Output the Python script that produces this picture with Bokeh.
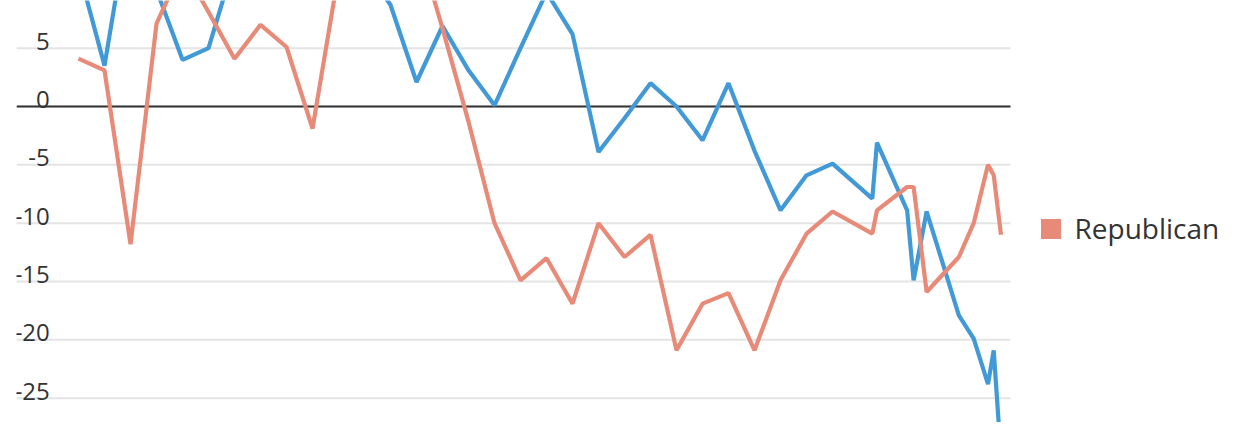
from bokeh.plotting import figure
from bokeh.models import ColumnDataSource, Range1d, Grid, Legend, LegendItem
from bokeh.core.properties import value
from bokeh.embed import file_html
from bokeh.resources import INLINE

# ---- data ----
years = [1990, 1991, 1992, 1993, 1994, 1995, 1996, 1997, 1998, 1999,
         2000, 2001, 2002, 2003, 2004, 2005, 2006, 2007, 2008, 2009,
         2010, 2011, 2012, 2013, 2014, 2015, 2016, 2017, 2018, 2019,
         2020.53, 2020.71, 2021.87, 2022.12, 2022.62, 2023.86, 2024.43,
         2024.98, 2025.20, 2025.48]

democrat = [11.8, 3.5, 16.9, 10.0, 4.0, 5.0, 12.4, 15.0, 17.0, 14.0,
            16.0, 12.0, 8.7, 2.1, 6.9, 3.1, 0.1, 5.0, 9.8, 6.2,
            -3.9, -1.0, 2.0, 0.0, -2.9, 2.0, -3.8, -8.9, -5.9, -4.9,
            -7.9, -3.1, -8.9, -14.9, -9.0, -17.9, -19.9,
            -23.8, -20.9, -30.0]

republican = [4.1, 3.1, -11.8, 7.1, 12.0, 8.1, 4.1, 7.0, 5.1, -1.9,
              11.4, 15.0, 16.0, 14.3, 6.7, -1.3, -10.0, -14.9, -13.0, -16.9,
              -10.0, -12.9, -11.0, -20.9, -16.9, -16.0, -20.9, -14.9, -10.9, -9.0,
              -10.9, -8.9, -6.9, -6.9, -15.9, -12.9, -10.0,
              -5.0, -5.9, -11.0]

tick_values = [5, 0, -5, -10, -15, -20, -25]
tick_labels = ["5", "0", "-5", "-10", "-15", "-20", "-25"]

series_label = "Republican"

BLUE = "#4299d7"
RED = "#e88a78"
GRID = "#e4e4e4"
TEXT = "#333333"
FONT = "Open Sans"

PX_PER_YEAR = 26.0
X0 = 1987.615
FRAME_W = 1228           # whole width right of the 16px left border
GRID_W = 994             # plotting area where the grid lines run
X1 = X0 + FRAME_W / PX_PER_YEAR
XG = X0 + GRID_W / PX_PER_YEAR

p = figure(width=1244, height=422, output_backend="svg", toolbar_location=None,
           x_range=Range1d(X0, X1), y_range=Range1d(-27.085, 9.0855),
           x_axis_location=None, y_axis_location=None,
           min_border_left=16, min_border_right=0,
           min_border_top=0, min_border_bottom=0)
p.outline_line_color = None
p.background_fill_color = "white"
p.border_fill_color = "white"
p.center = [r for r in p.center if not isinstance(r, Grid)]

# horizontal grid lines (only across the plotting area) and the zero line
n = len(tick_values)
p.segment(x0=[X0] * n, x1=[XG] * n, y0=tick_values, y1=tick_values,
          line_color=GRID, line_width=2)
zero_src = ColumnDataSource(data=dict(x0=[X0], x1=[XG], y=[v for v in tick_values if v == 0]))
p.segment(x0="x0", x1="x1", y0="y", y1="y", source=zero_src, line_color=TEXT, line_width=2.2)

src = ColumnDataSource(data=dict(year=years, dem=democrat, rep=republican))
p.line("year", "dem", source=src, line_color=BLUE, line_width=4.2)
p.line("year", "rep", source=src, line_color=RED, line_width=4.2)

# tick labels sitting above gridlines, right-aligned
label_x = X0 + 33.3 / PX_PER_YEAR
tsrc = ColumnDataSource(data=dict(x=[label_x] * n, y=tick_values, t=tick_labels))
p.text("x", "y", text="t", source=tsrc, text_align="right", text_baseline="alphabetic",
       y_offset=-7, text_font=value(FONT), text_font_size="24px", text_color=TEXT)

# legend swatch proxy (kept outside the visible range)
proxy = p.quad(left=[X1 + 1], right=[X1 + 2], top=[1], bottom=[0],
               fill_color=RED, line_color=None)
legend = Legend(items=[LegendItem(label=series_label, renderers=[proxy])],
                location=(1021.5, 175), orientation="vertical",
                glyph_width=25, glyph_height=25, label_standoff=12,
                padding=0, margin=0, spacing=0,
                border_line_color=None, background_fill_alpha=0,
                label_text_font=FONT, label_text_font_size="28px",
                label_text_color=TEXT)
p.add_layout(legend)

open("out.html", "w").write(file_html(p, INLINE))
